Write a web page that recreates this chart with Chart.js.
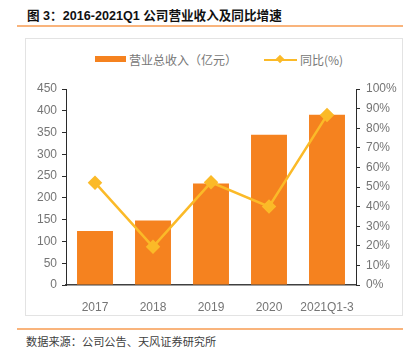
<!DOCTYPE html>
<html><head><meta charset="utf-8">
<script src="https://cdn.jsdelivr.net/npm/chart.js@4/dist/chart.umd.min.js"></script>
<style>
html,body{margin:0;padding:0;background:#fff;width:414px;height:358px;overflow:hidden;font-family:"Liberation Sans","Noto Sans CJK SC",sans-serif;}
#title{position:absolute;left:27px;top:5px;font-size:12.6px;font-weight:bold;color:#111;font-family:"Liberation Sans","Noto Sans CJK SC",sans-serif;white-space:nowrap;}
.hl{position:absolute;left:17px;width:386px;height:1.5px;background:#F9B47C;}
#box{position:absolute;left:25px;top:38px;width:376px;height:276px;border:1px solid #e3e3e3;}
#src{position:absolute;left:26px;top:333px;font-size:11.2px;color:#404040;white-space:nowrap;font-family:"Noto Sans CJK SC",sans-serif;}
.lg{position:absolute;top:51px;font-size:12px;color:#777;font-family:"Noto Sans CJK SC",sans-serif;white-space:nowrap;}
#c{position:absolute;left:0;top:0;}
</style></head>
<body>
<div id="title">图 3：2016-2021Q1 公司营业收入及同比增速</div>
<div class="hl" style="top:25px"></div>
<div id="box"></div>
<div class="hl" style="top:328px"></div>
<div id="src">数据来源：公司公告、天风证券研究所</div>
<div style="position:absolute;left:95px;top:56px;width:31px;height:6px;background:#F5821F"></div>
<div class="lg" style="left:129px">营业总收入（亿元）</div>
<div style="position:absolute;left:264px;top:59px;width:33px;height:2px;background:#FBBA28"></div>
<div style="position:absolute;left:277px;top:56px;width:6px;height:6px;background:#FBBA28;transform:rotate(45deg)"></div>
<div class="lg" style="left:300px">同比(%)</div>
<canvas id="c" width="414" height="358"></canvas>
<script>
const categories = ['2017', '2018', '2019', '2020', '2021Q1-3'];
const revenue = [124, 148, 233, 345, 391];
const growth = [52.2, 19.5, 52.4, 40.0, 86.7];
const leftTicksMax = 450;
const rightTicksMax = 100;

const tickFont = {family: '"Liberation Sans", Arial, sans-serif', size: 12};
const tickColor = '#757575';
const axisColor = '#2b2b2b';

new Chart(document.getElementById('c'), {
  data: {
    labels: categories,
    datasets: [
      {type: 'line', label: '同比(%)', data: growth, yAxisID: 'y1',
       borderColor: '#FBBA28', backgroundColor: '#FBBA28', borderWidth: 2.5,
       pointStyle: 'rectRot', pointRadius: 5.5, pointHoverRadius: 5.5, tension: 0, order: 0},
      {type: 'bar', label: '营业总收入（亿元）', data: revenue, yAxisID: 'y',
       backgroundColor: '#F5821F', borderWidth: 0,
       barPercentage: 0.62, categoryPercentage: 1, order: 1}
    ]
  },
  options: {
    responsive: false, animation: false,
    layout: {padding: {top: 89, left: 0, right: 0, bottom: 0}},
    plugins: {legend: {display: false}, tooltip: {enabled: false}},
    scales: {
      x: {
        grid: {display: false},
        border: {display: true, color: '#404040', width: 1.5},
        ticks: {font: tickFont, color: tickColor, padding: 7, maxRotation: 0},
        afterFit: s => { s.height = 73; }
      },
      y: {
        position: 'left', min: 0, max: leftTicksMax,
        ticks: {stepSize: 50, font: tickFont, color: tickColor, padding: 5},
        grid: {drawOnChartArea: false, drawTicks: true, tickLength: 4, color: axisColor},
        border: {display: true, color: axisColor, width: 1},
        afterFit: s => { s.width = 66; }
      },
      y1: {
        position: 'right', min: 0, max: rightTicksMax,
        ticks: {stepSize: 10, font: tickFont, color: tickColor, padding: 6, callback: v => v + '%'},
        grid: {drawOnChartArea: false, drawTicks: true, tickLength: 4, color: axisColor},
        border: {display: true, color: axisColor, width: 1},
        afterFit: s => { s.width = 58; }
      }
    }
  }
});
</script>
</body></html>
